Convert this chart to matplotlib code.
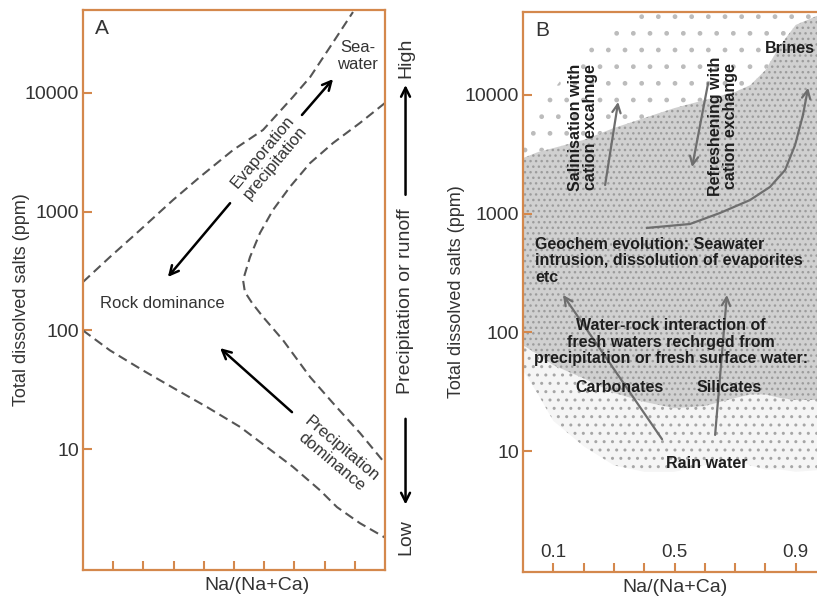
import numpy as np
import matplotlib.pyplot as plt
from matplotlib.ticker import FixedLocator, NullLocator, FixedFormatter

plt.rcParams['font.family'] = ['Liberation Sans', 'DejaVu Sans']

# ---- panel A: Gibbs boundary curves
upper_x = [0.0, 0.089, 0.189, 0.298, 0.387, 0.497, 0.596, 0.695, 0.752, 0.818, 0.894]
upper_y = [256, 415, 701, 1255, 1960, 3310, 4880, 9250, 13600, 24400, 48100]

inner_x = [1.0, 0.917, 0.828, 0.752, 0.685, 0.629, 0.586, 0.553, 0.530, 0.536,
           0.560, 0.596, 0.662, 0.752, 0.828, 0.917, 1.0]
inner_y = [8240, 5590, 3790, 2570, 1615, 1033, 662, 415, 266, 211,
           170, 130, 83, 40.5, 24.4, 13.7, 7.6]

lower_x = [0.0, 0.089, 0.199, 0.311, 0.411, 0.520, 0.609, 0.695, 0.785, 0.841, 0.917, 1.0]
lower_y = [100, 68, 46, 31.5, 22.6, 15.4, 10.4, 7.1, 4.5, 3.25, 2.38, 1.8]

# arrows in A: (x_start, y_start, x_end, y_end)
arrows_a = [(0.725, 6530, 0.828, 13100),
            (0.487, 1180, 0.281, 282),
            (0.692, 20.5, 0.454, 71)]

# ---- panel B: envelope of the sample cloud
env_x = [0.0, 0.05, 0.1, 0.2, 0.3, 0.4, 0.5, 0.6, 0.7, 0.75, 0.8, 0.85, 0.9, 1.0]
dense_top = [2940, 3310, 3570, 4180, 5270, 6400, 7760, 9080, 10600, 12100, 16200, 26400, 38900, 50000]
dense_bot = [78, 65, 53, 41, 31, 26, 23, 24, 28, 30, 30, 28, 27, 27]
sparse_top = [5590, 7480, 11000, 23900, 35300, 50000, 50000, 50000, 50000, 50000, 50000, 50000, 50000, 50000]
sparse_bot = [48, 30, 18, 11, 7.6, 6.7, 6.7, 7.6, 8.4, 7.6, 7.0, 7.0, 6.7, 7.0]

# arrows in B
arrows_b = [(0.271, 1745, 0.314, 8740),    # salinisation
            (0.611, 12600, 0.558, 2470),   # refreshening
            (0.459, 12.6, 0.132, 207),     # carbonates
            (0.634, 13.7, 0.673, 207)]     # silicates
brine_x = [0.409, 0.551, 0.650, 0.749, 0.815, 0.865, 0.898, 0.924, 0.941]
brine_y = [759, 819, 1014, 1303, 1679, 2333, 3790, 6790, 11500]

yticks = [10, 100, 1000, 10000]
ytick_labels = ['10', '100', '1000', '10000']
xticks = [0.1, 0.2, 0.3, 0.4, 0.5, 0.6, 0.7, 0.8, 0.9]
xtick_labels_b = ['0.1', '0.5', '0.9']
xtick_pos_b = [0.1, 0.5, 0.9]

spine_col = '#d4884c'
txt_col = '#333333'

fig = plt.figure(figsize=(8.17, 6.01), dpi=100)
axA = fig.add_axes([83 / 817, 31 / 601, 302 / 817, 560 / 601])
axB = fig.add_axes([523 / 817, 29 / 601, 303 / 817, 560 / 601])

for ax in (axA, axB):
    ax.set_yscale('log')
    ax.set_xlim(0, 1)
    ax.set_ylim(0.96, 50000)
    ax.yaxis.set_major_locator(FixedLocator(yticks))
    ax.yaxis.set_major_formatter(FixedFormatter(ytick_labels))
    ax.yaxis.set_minor_locator(NullLocator())
    ax.xaxis.set_major_locator(FixedLocator(xticks))
    ax.set_xticklabels([])
    for s in ax.spines.values():
        s.set_color(spine_col)
        s.set_linewidth(1.6)
    ax.tick_params(direction='in', color=spine_col, width=1.5, length=6.5,
                   labelsize=14, labelcolor=txt_col, pad=3)
    ax.set_ylabel('Total dissolved salts (ppm)', fontsize=13, color=txt_col)
    ax.set_xlabel('Na/(Na+Ca)', fontsize=14, color=txt_col)

# ---- panel A
for xs, ys in ((upper_x, upper_y), (inner_x, inner_y), (lower_x, lower_y)):
    axA.plot(xs, ys, color='#555555', lw=1.5, dashes=(4.5, 2.5), clip_on=False)

for x0, y0, x1, y1 in arrows_a:
    axA.annotate('', xy=(x1, y1), xytext=(x0, y0),
                 arrowprops=dict(arrowstyle='->', color='black', lw=1.8,
                                 mutation_scale=16, shrinkA=0, shrinkB=0))

axA.text(0.04, 0.967, 'A', transform=axA.transAxes, fontsize=15, color=txt_col,
         ha='left', va='center')
axA.text(0.91, 20500, 'Sea-\nwater', fontsize=12, color=txt_col, ha='center',
         va='center', linespacing=1.1)
axA.text(0.615, 2890, 'Evaporation\nprecipitation', fontsize=12, color=txt_col,
         ha='center', va='center', rotation=50, linespacing=1.1)
axA.text(0.262, 170, 'Rock dominance', fontsize=12, color=txt_col,
         ha='center', va='center')
axA.text(0.841, 8.9, 'Precipitation\ndominance', fontsize=12, color=txt_col,
         ha='center', va='center', rotation=-40, linespacing=1.1)
axA.yaxis.set_label_coords(-0.175, 0.482)
axA.xaxis.set_label_coords(0.576, -0.012)

# precipitation / runoff scale right of A
xr = 1.068
axA.text(xr, 0.915, 'High', transform=axA.transAxes, rotation=90, fontsize=14,
         color=txt_col, ha='center', va='center')
axA.text(xr, 0.48, 'Precipitation or runoff', transform=axA.transAxes,
         rotation=90, fontsize=14, color=txt_col, ha='center', va='center')
axA.text(xr, 0.059, 'Low', transform=axA.transAxes, rotation=90, fontsize=14,
         color=txt_col, ha='center', va='center')
axA.annotate('', xy=(xr, 0.866), xytext=(xr, 0.67), xycoords='axes fraction',
             textcoords='axes fraction',
             arrowprops=dict(arrowstyle='->', color='black', lw=1.8,
                             mutation_scale=16, shrinkA=0, shrinkB=0))
axA.annotate('', xy=(xr, 0.117), xytext=(xr, 0.27), xycoords='axes fraction',
             textcoords='axes fraction',
             arrowprops=dict(arrowstyle='->', color='black', lw=1.8,
                             mutation_scale=16, shrinkA=0, shrinkB=0))

# ---- panel B
axB.fill_between(env_x, dense_top, sparse_top, facecolor='white',
                 edgecolor='#bcbcbc', hatch='.', lw=0)
axB.fill_between(env_x, sparse_bot, dense_bot, facecolor='#f5f5f5',
                 edgecolor='#a6a6a6', hatch='..', lw=0)
axB.fill_between(env_x, dense_bot, dense_top, facecolor='#d0d0d0',
                 edgecolor='#9c9c9c', hatch='...', lw=0)

arrow_gray = '#6e6e6e'
for x0, y0, x1, y1 in arrows_b:
    axB.annotate('', xy=(x1, y1), xytext=(x0, y0),
                 arrowprops=dict(arrowstyle='->', color=arrow_gray, lw=1.6,
                                 mutation_scale=15, shrinkA=0, shrinkB=0))
axB.plot(brine_x[:-1], brine_y[:-1], color=arrow_gray, lw=1.6)
axB.annotate('', xy=(brine_x[-1], brine_y[-1]), xytext=(brine_x[-2], brine_y[-2]),
             arrowprops=dict(arrowstyle='->', color=arrow_gray, lw=1.6,
                             mutation_scale=15, shrinkA=0, shrinkB=0))

bcol = '#1e1e1e'
axB.text(0.04, 0.967, 'B', transform=axB.transAxes, fontsize=15, color=txt_col,
         ha='left', va='center')
axB.text(0.962, 24400, 'Brines', fontsize=11.5, fontweight='bold', color=bcol,
         ha='right', va='center')
axB.text(0.198, 5370, 'Salinisation with\ncation excahnge', fontsize=11.5,
         fontweight='bold', color=bcol, rotation=90, ha='center', va='center',
         linespacing=1.05)
axB.text(0.660, 5480, 'Refreshening with\ncation exchange', fontsize=11.5,
         fontweight='bold', color=bcol, rotation=90, ha='center', va='center',
         linespacing=1.05)
axB.text(0.040, 400, 'Geochem evolution: Seawater\nintrusion, dissolution of evaporites\netc',
         fontsize=11.5, fontweight='bold', color=bcol, ha='left', va='center',
         linespacing=1.1)
axB.text(0.488, 83, 'Water-rock interaction of\nfresh waters rechrged from\nprecipitation or fresh surface water:',
         fontsize=11.5, fontweight='bold', color=bcol, ha='center', va='center',
         linespacing=1.1)
axB.text(0.320, 34.7, 'Carbonates', fontsize=11.5, fontweight='bold', color=bcol,
         ha='center', va='center')
axB.text(0.680, 34.7, 'Silicates', fontsize=11.5, fontweight='bold', color=bcol,
         ha='center', va='center')
axB.text(0.607, 7.94, 'Rain water', fontsize=11.5, fontweight='bold', color=bcol,
         ha='center', va='center')
for xp, lab in zip(xtick_pos_b, xtick_labels_b):
    axB.text(xp, 0.034, lab, transform=axB.get_xaxis_transform(), fontsize=13.5,
             color=txt_col, ha='center', va='center')
axB.yaxis.set_label_coords(-0.19, 0.5)
axB.xaxis.set_label_coords(0.502, -0.012)

fig.savefig('out.png', dpi=100)
